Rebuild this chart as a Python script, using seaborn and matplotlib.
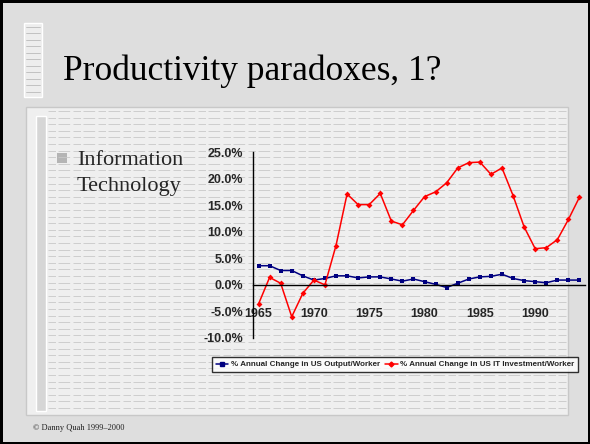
import numpy as np
import pandas as pd
import matplotlib
matplotlib.use("Agg")
import matplotlib.pyplot as plt
import matplotlib.patches as mpatches
from matplotlib.lines import Line2D
from matplotlib.ticker import FuncFormatter, FixedLocator
import seaborn as sns

# Data (percent annual change)
years = list(range(1965, 1995))
output_per_worker = [3.6, 3.6, 2.7, 2.7, 1.7, 0.9, 1.2, 1.7, 1.7, 1.3,
                     1.5, 1.5, 1.1, 0.7, 1.1, 0.6, 0.1, -0.5, 0.3, 1.1,
                     1.5, 1.6, 2.0, 1.2, 0.8, 0.6, 0.4, 0.9, 0.9, 0.9]
it_invest_per_worker = [-3.6, 1.4, 0.3, -6.0, -1.6, 0.9, 0.0, 7.4, 17.1, 15.1,
                        15.1, 17.2, 12.0, 11.3, 14.0, 16.6, 17.5, 19.2, 22.0, 23.0,
                        23.1, 20.8, 22.0, 16.8, 10.9, 6.8, 7.0, 8.5, 12.3, 16.5]
label_years = [1965, 1970, 1975, 1980, 1985, 1990]
y_ticks = [25, 20, 15, 10, 5, 0, -5, -10]
series_names = ["% Annual Change in US Output/Worker",
                "% Annual Change in US IT Investment/Worker"]

W, H = 590, 444
sns.set_style("white")
plt.rcParams['font.family'] = ['Liberation Sans', 'DejaVu Sans']

fig = plt.figure(figsize=(W / 100, H / 100), dpi=100)
fig.patch.set_facecolor('black')

# Slide background in pixel coordinates
bg = fig.add_axes([0, 0, 1, 1])
bg.set_xlim(0, W)
bg.set_ylim(H, 0)
bg.axis('off')

bg.add_patch(mpatches.Rectangle((3, 3), W - 5, H - 5, facecolor='#dedede', edgecolor='none'))
# title tab
bg.add_patch(mpatches.Rectangle((24, 23), 18, 74, facecolor='#ededed', edgecolor='white', lw=1))
for yy in np.arange(27, 95, 6.5):
    bg.plot([26, 40], [yy, yy], color='#b0b0b0', lw=0.5)
# content panel
bg.add_patch(mpatches.Rectangle((26, 107), 542, 308, facecolor='#efefef', edgecolor='#c8c8c8', lw=1))
for yy in np.arange(111, 413, 6.6):
    bg.plot([48, 566], [yy, yy], color='#c8c8c8', lw=0.6, dashes=(9, 3, 14, 4))
bg.add_patch(mpatches.Rectangle((36, 116), 10, 295, facecolor='#d6d6d6', edgecolor='white', lw=1))

bg.text(63, 80, "Productivity paradoxes, 1?", family='Liberation Serif',
        fontsize=25.5, color='black', va='baseline')
bg.add_patch(mpatches.Rectangle((57, 153), 10, 10, facecolor='#b4b4b4', edgecolor='none'))
bg.text(77, 165, "Information", family='Liberation Serif', fontsize=16, va='baseline')
bg.text(77, 191, "Technology", family='Liberation Serif', fontsize=16, va='baseline')
bg.text(33, 430, "\u00a9 Danny Quah 1999\u20132000", family='Liberation Serif',
        fontsize=6, va='baseline', color='#222222')

# Chart
df = pd.DataFrame({
    "year": years * 2,
    "value": output_per_worker + it_invest_per_worker,
    "series": [series_names[0]] * len(years) + [series_names[1]] * len(years),
})

ax = fig.add_axes([253 / W, 1 - 338 / H, (585 - 253) / W, (338 - 152) / H])
ax.patch.set_alpha(0)
sns.lineplot(data=df[df.series == series_names[0]], x="year", y="value",
             color='#000080', marker='s', markersize=3.5, markeredgewidth=0,
             lw=1.1, ax=ax, legend=False)
sns.lineplot(data=df[df.series == series_names[1]], x="year", y="value",
             color='#ff0000', marker='D', markersize=3, markeredgewidth=0,
             lw=1.1, ax=ax, legend=False)

ax.set_xlim(1964.5, 1994.5)
ax.set_ylim(-10, 25)
ax.set_xlabel("")
ax.set_ylabel("")
for s in ['top', 'right']:
    ax.spines[s].set_visible(False)
ax.spines['left'].set_color('black')
ax.spines['bottom'].set_color('black')
ax.spines['left'].set_linewidth(1)
ax.spines['bottom'].set_linewidth(1)
ax.spines['bottom'].set_position(('data', 0))

ax.yaxis.set_major_locator(FixedLocator(y_ticks))
ax.yaxis.set_major_formatter(FuncFormatter(lambda v, p: f"{v:.1f}%"))
ax.tick_params(axis='y', direction='out', length=4, width=1, color='black', pad=3,
               labelsize=9)
for t in ax.get_yticklabels():
    t.set_fontweight('bold')

ax.xaxis.set_major_locator(FixedLocator([y - 0.5 for y in label_years] + [1994.5]))
ax.xaxis.set_major_formatter(FuncFormatter(lambda v, p: ""))
ax.xaxis.set_minor_locator(FixedLocator(label_years))
ax.xaxis.set_minor_formatter(FuncFormatter(lambda v, p: f"{int(round(v))}"))
ax.tick_params(axis='x', which='major', direction='out', length=4, width=1, color='black')
ax.tick_params(axis='x', which='minor', length=0, pad=17, labelsize=9)
for t in ax.get_xticklabels(minor=True):
    t.set_fontweight('bold')

handles = [Line2D([0], [0], color='#000080', marker='s', markersize=3, lw=1.1),
           Line2D([0], [0], color='#ff0000', marker='D', markersize=2.5, lw=1.1)]
leg = fig.legend(handles, series_names, ncol=2, loc='center',
                 bbox_to_anchor=(395 / W, 1 - 364.5 / H),
                 prop={'weight': 'bold', 'size': 5.8}, frameon=True, fancybox=False,
                 handlelength=1.6, handletextpad=0.3, columnspacing=0.6,
                 borderpad=0.4, borderaxespad=0)
leg.get_frame().set_edgecolor('black')
leg.get_frame().set_linewidth(1)
leg.get_frame().set_facecolor('white')

fig.savefig("out.png", dpi=100, facecolor=fig.get_facecolor())
